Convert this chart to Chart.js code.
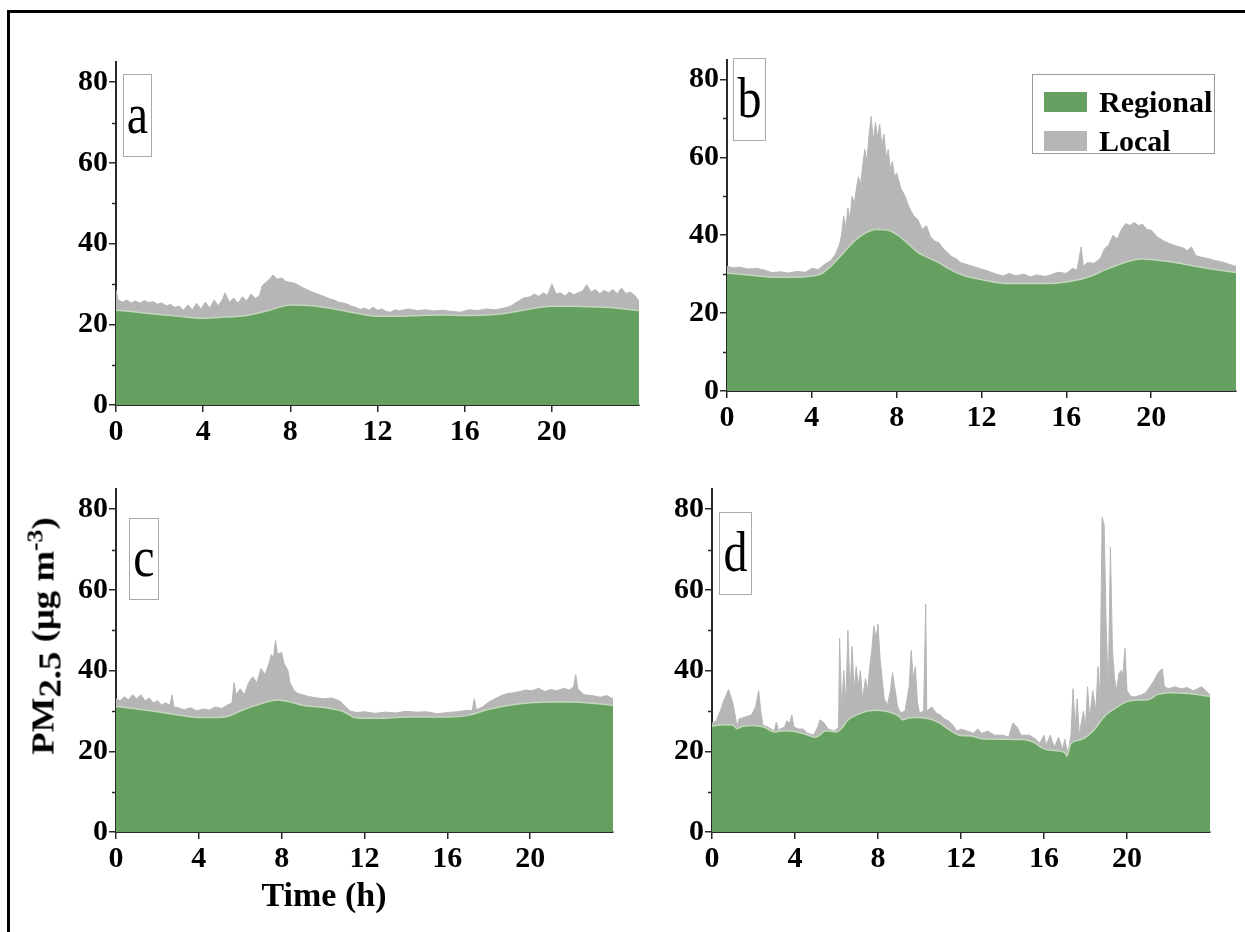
<!DOCTYPE html>
<html lang="en">
<head>
<meta charset="UTF-8">
<title>PM2.5 regional and local contributions</title>
<script src="https://cdn.jsdelivr.net/npm/chart.js"></script>
<style>
  body { margin: 0; background: #fff; }
  #page { position: relative; width: 1245px; height: 932px; overflow: hidden; background: #fff;
          font-family: 'Liberation Serif', 'Times New Roman', serif; }
  #frame { position: absolute; left: 7px; top: 10px; right: -10px; bottom: -10px;
           border-left: 3px solid #000; border-top: 3px solid #000; }
  canvas { position: absolute; }
  .tag { position: absolute; border: 1.5px solid #aaa; box-sizing: border-box; font-size: 48px;
         line-height: 1; display: flex; align-items: center; justify-content: center; padding-bottom: 4px; }
  .tag span { display: inline-block; transform: scaleY(1.2); }
  #legend { position: absolute; left: 1032px; top: 74px; width: 183px; height: 80px; box-sizing: border-box;
            border: 1.5px solid #999; font-weight: bold; font-size: 30px; }
  #legend .row { position: absolute; left: 11px; height: 22px; display: flex; align-items: center; }
  #legend .sw { width: 43px; height: 20px; margin-right: 12px; }
  #ytitle { position: absolute; left: 43px; top: 636px; transform: translate(-50%, -50%) rotate(-90deg) scaleX(1.15);
            white-space: nowrap; font-weight: bold; font-size: 32px; }
  #ytitle .sub { position: relative; top: 0.22em; }
  #ytitle .sup { font-size: 0.7em; position: relative; top: -0.5em; }
  #xtitle { position: absolute; left: 324px; top: 895px; transform: translate(-50%, -50%);
            white-space: nowrap; font-weight: bold; font-size: 34px; }
</style>
</head>
<body>
<div id="page">
  <div id="frame"></div>
  <canvas id="chartA" width="620" height="440" style="left:40px; top:40px;"></canvas>
  <canvas id="chartB" width="595" height="440" style="left:650px; top:40px;"></canvas>
  <canvas id="chartC" width="620" height="440" style="left:40px; top:470px;"></canvas>
  <canvas id="chartD" width="595" height="440" style="left:650px; top:470px;"></canvas>

  <div class="tag" style="left:123px; top:74px; width:29px; height:83px;"><span>a</span></div>
  <div class="tag" style="left:733px; top:58px; width:33px; height:83px;"><span>b</span></div>
  <div class="tag" style="left:129px; top:518px; width:30px; height:82px;"><span>c</span></div>
  <div class="tag" style="left:719px; top:512px; width:33px; height:83px;"><span>d</span></div>

  <div id="legend">
    <div class="row" style="top:16px;"><span class="sw" style="background:rgb(102,160,96);"></span>Regional</div>
    <div class="row" style="top:55px;"><span class="sw" style="background:rgb(182,182,182);"></span>Local</div>
  </div>

  <div id="ytitle">PM<span class="sub">2.5</span> (μg m<span class="sup">-3</span>)</div>
  <div id="xtitle">Time (h)</div>
</div>

<script>
// tick labels
const xTickHours = [0, 4, 8, 12, 16, 20];
const yTickValues = [0, 20, 40, 60, 80];
const yMinorTicks = [10, 30, 50, 70];

// panel a
const aRegionalHours = [0, 1, 2, 3, 4, 5, 6, 7, 8, 9, 10, 11, 12, 13, 14, 15, 16, 17, 18, 19, 20, 21, 22, 23, 24];
const aRegional = [23.5, 23.0, 22.4, 21.9, 21.5, 21.8, 22.2, 23.4, 24.8, 24.6, 23.8, 22.8, 22.0, 22.0, 22.2, 22.3, 22.2, 22.3, 22.8, 23.8, 24.5, 24.5, 24.3, 24.0, 23.4];
const aTotalHours = [0, 0.1, 0.3, 0.5, 0.7, 0.9, 1.1, 1.3, 1.5, 1.7, 1.9, 2.1, 2.3, 2.5, 2.7, 2.9, 3.1, 3.3, 3.5, 3.7, 3.9,
  4.1, 4.3, 4.5, 4.7, 4.9, 5.0, 5.2, 5.4, 5.6, 5.8, 6.0, 6.2, 6.4, 6.6, 6.7, 6.9, 7.1, 7.2, 7.4, 7.6, 7.8,
  8.0, 8.2, 8.4, 8.6, 8.8, 9.0, 9.2, 9.4, 9.6, 9.8, 10.0, 10.2, 10.4, 10.6, 10.8, 11.0, 11.2, 11.4, 11.6, 11.8,
  12.0, 12.2, 12.4, 12.6, 12.8, 13.0, 13.4, 13.8, 14.2, 14.6, 15.0, 15.4, 15.8, 16.2, 16.6, 17.0, 17.4, 17.8,
  18.1, 18.4, 18.7, 19.0, 19.2, 19.4, 19.6, 19.8, 20.0, 20.2, 20.4, 20.6, 20.8, 21.0, 21.2, 21.4, 21.6, 21.8,
  22.0, 22.2, 22.4, 22.6, 22.8, 23.0, 23.2, 23.4, 23.6, 23.8, 24.0];
const aTotal = [28.5, 26.0, 25.5, 26.0, 25.3, 25.8, 25.2, 25.9, 25.4, 25.6, 25.0, 25.3, 24.6, 24.9, 24.2, 24.5, 23.5, 24.8, 23.6, 25.2, 23.8,
  25.5, 24.0, 26.0, 24.6, 26.3, 27.8, 25.5, 26.5, 25.2, 26.8, 25.8, 27.5, 26.4, 27.2, 29.5, 30.5, 31.5, 32.2, 31.2, 31.5, 30.6,
  30.4, 30.2, 29.6, 29.0, 28.5, 28.0, 27.6, 27.2, 26.8, 26.3, 26.0, 25.5, 25.3, 25.0, 24.5, 24.2, 23.7, 24.0, 23.5, 24.2,
  23.5, 23.8, 23.2, 23.0, 23.6, 23.3, 23.8, 23.4, 23.6, 23.3, 23.5, 23.2, 23.0, 23.6, 23.4, 23.8, 23.6, 24.0,
  24.5, 25.5, 26.5, 26.8, 27.5, 26.9, 27.8, 27.2, 30.0, 27.5, 27.8, 27.0, 28.0, 27.3, 27.8, 28.2, 29.8, 28.0,
  28.6, 27.6, 28.4, 27.8, 28.6, 27.6, 29.0, 27.6, 28.0, 27.2, 25.8];

// panel b
const bRegionalHours = [0, 1, 2, 3, 4, 4.5, 5, 5.5, 6, 6.5, 7, 7.5, 8, 8.5, 9, 9.5, 10, 10.5, 11, 12, 13, 14, 15, 16, 17, 18, 19, 19.5, 20, 21, 22, 23, 24];
const bRegional = [30.3, 29.8, 29.3, 29.2, 29.5, 30.3, 32.6, 35.5, 38.5, 40.5, 41.5, 41.4, 40.2, 38.0, 35.6, 34.2, 32.9, 31.3, 30.0, 28.6, 27.7, 27.6, 27.6, 28.0, 29.2, 31.5, 33.4, 33.9, 33.8, 33.1, 32.1, 31.2, 30.4];
const bTotalHours = [0, 0.3, 0.6, 1.0, 1.4, 1.8, 2.1, 2.5, 2.9, 3.3, 3.7, 4.0, 4.3, 4.6, 4.9, 5.1, 5.3, 5.4, 5.5, 5.6, 5.7,
  5.8, 5.9, 6.0, 6.1, 6.2, 6.3, 6.4, 6.5, 6.6, 6.7, 6.8, 6.9, 7.0, 7.1, 7.2, 7.3, 7.4, 7.5, 7.6, 7.7, 7.8, 7.9,
  8.0, 8.2, 8.4, 8.6, 8.8, 9.0, 9.2, 9.4, 9.6, 9.8, 10.0, 10.2, 10.4, 10.6, 10.8, 11.0, 11.3, 11.6, 12.0, 12.3,
  12.6, 13.0, 13.3, 13.6, 14.0, 14.3, 14.6, 15.0, 15.3, 15.6, 16.0, 16.3, 16.5, 16.7, 16.8, 17.0, 17.3, 17.6,
  17.8, 18.0, 18.2, 18.4, 18.6, 18.8, 19.0, 19.2, 19.4, 19.6, 19.8, 20.0, 20.3, 20.6, 20.9, 21.2, 21.5, 21.7,
  21.9, 22.1, 22.4, 22.7, 23.0, 23.3, 23.6, 24.0];
const bTotal = [32.0, 31.6, 31.8, 31.3, 31.5, 31.0, 30.4, 30.6, 30.3, 30.7, 30.5, 31.5, 31.2, 32.5, 33.5, 35.0, 37.5, 40.0, 45.0, 42.0, 47.0,
  44.0, 50.0, 48.0, 52.0, 55.0, 53.0, 58.0, 62.0, 59.0, 66.0, 70.5, 64.0, 69.0, 65.0, 68.5, 63.0, 66.0, 60.0, 62.0, 57.0, 59.0, 55.0,
  56.0, 52.0, 50.0, 47.0, 45.0, 44.0, 41.5, 42.5, 39.5, 38.5, 38.0, 36.5, 35.5, 34.5, 34.0, 33.0, 32.5, 32.0, 31.3, 30.8,
  30.2, 29.5, 30.2, 29.6, 30.0, 29.3, 29.8, 29.4, 29.9, 30.5, 30.2, 31.5, 31.0, 37.0, 32.0, 33.0, 32.8, 34.0,
  36.5, 37.5, 40.0, 39.0, 41.5, 43.0, 42.5, 43.3, 42.5, 42.8, 41.5, 41.3, 39.5, 38.5, 37.8, 37.2, 36.8, 36.0,
  37.0, 34.8, 34.3, 34.0, 33.5, 33.2, 32.7, 32.0];

// panel c
const cRegionalHours = [0, 1, 2, 3, 4, 5, 5.5, 6, 7, 7.8, 8.5, 9, 10, 11, 11.5, 12, 13, 14, 15, 16, 17, 18, 19, 20, 21, 22, 23, 24];
const cRegional = [31.1, 30.5, 29.8, 29.0, 28.4, 28.4, 28.8, 30.0, 31.8, 32.7, 32.1, 31.4, 30.9, 29.8, 28.4, 28.2, 28.2, 28.5, 28.5, 28.5, 28.9, 30.4, 31.4, 32.0, 32.2, 32.2, 31.9, 31.4];
const cTotalHours = [0, 0.2, 0.4, 0.6, 0.8, 1.0, 1.2, 1.4, 1.6, 1.8, 2.0, 2.2, 2.4, 2.6, 2.7, 2.8, 3.0, 3.3, 3.6, 3.9,
  4.2, 4.5, 4.8, 5.1, 5.4, 5.6, 5.7, 5.8, 6.0, 6.2, 6.4, 6.6, 6.8, 7.0, 7.2, 7.4, 7.5, 7.6, 7.7, 7.8,
  8.0, 8.1, 8.3, 8.4, 8.6, 8.8, 9.0, 9.3, 9.6, 10.0, 10.4, 10.8, 11.0, 11.3, 11.6, 12.0, 12.5, 13.0, 13.5, 14.0,
  14.5, 15.0, 15.5, 16.0, 16.5, 17.0, 17.2, 17.3, 17.4, 17.7, 18.0, 18.3, 18.6, 18.9, 19.2, 19.5, 19.8, 20.1,
  20.4, 20.7, 21.0, 21.3, 21.6, 21.9, 22.1, 22.2, 22.3, 22.6, 23.0, 23.4, 23.7, 24.0];
const cTotal = [33.0, 32.5, 33.5, 32.8, 34.0, 33.0, 34.0, 32.5, 33.2, 32.0, 32.5, 31.5, 32.0, 31.4, 34.0, 31.0, 30.8, 30.3, 30.8, 30.0,
  30.5, 30.2, 31.0, 30.6, 31.5, 32.0, 37.0, 34.0, 35.5, 34.0, 37.0, 38.5, 37.0, 40.5, 39.0, 42.0, 44.0, 43.0, 47.5, 44.0,
  44.5, 42.0, 40.0, 37.0, 35.0, 34.3, 34.0, 33.6, 33.3, 33.0, 33.2, 32.5, 31.5, 30.0, 29.6, 29.8, 29.4, 29.7, 29.5, 29.9,
  29.7, 29.8, 29.3, 29.6, 29.8, 30.2, 30.0, 33.0, 30.3, 31.0, 32.2, 33.0, 33.8, 34.3, 34.5, 34.8, 35.2, 35.0,
  35.6, 34.8, 35.3, 35.0, 35.6, 35.2, 36.0, 39.0, 35.5, 34.0, 33.8, 33.4, 33.8, 33.0];

// panel d
const dRegionalHours = [0, 0.5, 1, 1.2, 1.5, 2, 2.5, 3, 3.5, 4, 4.5, 5, 5.5, 6, 6.3, 6.5, 7, 7.5, 8, 8.5, 9, 9.2, 9.5, 10, 10.5, 11, 11.5, 12,
  12.5, 13, 14, 15, 15.5, 16, 16.5, 17, 17.1, 17.3, 17.8, 18.3, 19, 19.5, 20, 20.5, 21, 21.5, 22, 23, 24];
const dRegional = [26.2, 26.6, 26.5, 25.6, 26.2, 26.4, 26.0, 24.8, 25.1, 24.9, 24.2, 23.5, 25.1, 24.8, 26.0, 27.5, 29.1, 30.0, 30.2, 29.8, 28.7, 27.8, 28.3, 28.4, 28.0, 26.9, 25.1, 23.9,
  23.8, 23.1, 23.0, 22.9, 22.2, 20.6, 20.2, 19.7, 18.8, 22.0, 22.9, 24.7, 29.1, 30.9, 32.3, 32.7, 32.8, 34.1, 34.5, 34.3, 33.6];
const dTotalHours = [0, 0.2, 0.4, 0.6, 0.8, 1.0, 1.15, 1.2, 1.3, 1.6, 1.9, 2.1, 2.25, 2.35, 2.45, 2.7, 3.0, 3.1, 3.2, 3.5,
  3.6, 3.75, 3.85, 3.95, 4.2, 4.4, 4.6, 4.9, 5.1, 5.2, 5.4, 5.6, 5.9, 6.1, 6.15, 6.25, 6.35, 6.45, 6.55, 6.65,
  6.75, 6.85, 6.95, 7.05, 7.15, 7.25, 7.4, 7.5, 7.6, 7.7, 7.8, 7.9, 8.0, 8.1, 8.2, 8.3, 8.45, 8.6, 8.7, 8.8,
  8.95, 9.1, 9.3, 9.5, 9.6, 9.7, 9.8, 9.9, 10.0, 10.2, 10.3, 10.35, 10.6, 10.8, 11.0, 11.2, 11.4, 11.6, 11.8, 12.0,
  12.3, 12.6, 12.8, 13.0, 13.3, 13.6, 14.0, 14.3, 14.5, 14.7, 14.9, 15.3, 15.6, 15.8, 16.0, 16.1, 16.3, 16.5, 16.7, 16.9,
  17.0, 17.15, 17.3, 17.4, 17.5, 17.6, 17.7, 17.9, 18.0, 18.1, 18.2, 18.35, 18.5, 18.6, 18.7, 18.8, 18.9, 19.0, 19.1, 19.2,
  19.3, 19.4, 19.5, 19.6, 19.7, 19.8, 19.9, 20.0, 20.2, 20.4, 20.7, 20.9, 21.1, 21.3, 21.5, 21.7, 21.8, 22.0, 22.3, 22.6,
  22.9, 23.2, 23.4, 23.6, 23.8, 24.0];
const dTotal = [27.0, 27.5, 30.0, 33.0, 35.3, 32.0, 28.0, 26.0, 28.0, 28.5, 29.0, 31.0, 35.0, 30.0, 26.5, 26.0, 25.0, 27.2, 25.3, 26.0,
  27.5, 27.0, 29.0, 26.0, 25.5, 25.5, 24.5, 24.0, 26.0, 27.8, 27.0, 25.5, 25.0, 26.0, 48.0, 30.0, 40.0, 32.0, 50.0, 34.0,
  46.0, 35.0, 41.0, 36.0, 40.0, 33.0, 38.0, 35.0, 41.0, 45.0, 51.0, 48.0, 51.5, 43.0, 38.0, 33.0, 31.5, 35.0, 39.5, 36.0,
  31.0, 29.5, 30.0, 36.0, 45.0, 38.0, 41.0, 32.0, 29.5, 30.0, 56.5, 30.0, 31.0, 29.5, 29.0, 28.0, 27.5, 26.5, 25.0, 25.5,
  25.0, 24.5, 25.5, 24.5, 25.0, 24.0, 24.0, 23.5, 27.0, 26.0, 24.0, 24.0, 23.0, 22.0, 24.0, 21.5, 24.0, 21.0, 23.5, 20.5,
  23.0, 19.5, 24.0, 35.5, 26.0, 33.0, 24.0, 30.0, 26.0, 36.0, 28.0, 35.0, 30.0, 41.0, 33.0, 78.0, 76.0, 50.0, 35.0, 70.5,
  45.0, 38.0, 35.0, 39.0, 40.0, 39.0, 45.5, 35.0, 33.5, 33.5, 34.0, 34.5, 36.0, 37.5, 39.5, 40.5, 36.0, 35.5, 36.0, 35.5,
  35.8, 35.0, 35.5, 36.0, 35.0, 34.0];

const GREEN = 'rgb(102,160,96)';
const GREEN_EDGE = 'rgb(196,214,190)';
const GREY = 'rgb(182,182,182)';
const AXIS = '#2a2a2a';
const tickFont = { family: "'Liberation Serif', 'Times New Roman', serif", size: 30, weight: 'bold' };

function points(hours, values) {
  return hours.map((h, i) => ({ x: h, y: values[i] }));
}

// small ticks between the labelled ones on the y axis
const minorTicks = {
  id: 'minorTicks',
  afterDraw(chart) {
    const y = chart.scales.y;
    const ctx = chart.ctx;
    ctx.save();
    ctx.strokeStyle = AXIS;
    ctx.lineWidth = 1.5;
    yMinorTicks.forEach(v => {
      const py = Math.round(y.getPixelForValue(v)) + 0.5;
      ctx.beginPath();
      ctx.moveTo(y.right - 4, py);
      ctx.lineTo(y.right, py);
      ctx.stroke();
    });
    ctx.restore();
  }
};

function makePanel(id, rh, rv, th, tv, lay) {
  return new Chart(document.getElementById(id), {
    type: 'line',
    data: {
      datasets: [
        {
          label: 'Regional', data: points(rh, rv), fill: 'origin',
          backgroundColor: GREEN, borderColor: GREEN_EDGE, borderWidth: 1.5,
          pointRadius: 0, cubicInterpolationMode: 'monotone'
        },
        {
          label: 'Local', data: points(th, tv), fill: 'origin',
          backgroundColor: GREY, borderColor: GREY, borderWidth: 1,
          pointRadius: 0, tension: 0
        }
      ]
    },
    options: {
      responsive: false,
      animation: false,
      layout: { padding: { top: lay.top, right: lay.right, left: 0, bottom: 0 } },
      plugins: { legend: { display: false }, tooltip: { enabled: false } },
      scales: {
        x: {
          type: 'linear', min: 0, max: 24,
          afterBuildTicks: s => { s.ticks = xTickHours.map(v => ({ value: v })); },
          afterFit: s => { s.height = lay.xH; },
          ticks: { stepSize: 4, font: tickFont, color: '#000', padding: 2, maxRotation: 0, autoSkip: false },
          grid: { drawOnChartArea: false, tickLength: 7, color: AXIS, lineWidth: 1.5 },
          border: { color: AXIS, width: 2 }
        },
        y: {
          min: 0, max: 85,
          afterBuildTicks: s => { s.ticks = yTickValues.map(v => ({ value: v })); },
          afterFit: s => { s.width = lay.yW; },
          ticks: { stepSize: 20, font: tickFont, color: '#000', padding: 1 },
          grid: { drawOnChartArea: false, tickLength: 7, color: AXIS, lineWidth: 1.5 },
          border: { color: AXIS, width: 2 }
        }
      }
    },
    plugins: [minorTicks]
  });
}

makePanel('chartA', aRegionalHours, aRegional, aTotalHours, aTotal, { yW: 76, xH: 75, top: 22, right: 21 });
makePanel('chartB', bRegionalHours, bRegional, bTotalHours, bTotal, { yW: 77, xH: 89, top: 20, right: 9 });
makePanel('chartC', cRegionalHours, cRegional, cTotalHours, cTotal, { yW: 76, xH: 78, top: 19, right: 47 });
makePanel('chartD', dRegionalHours, dRegional, dTotalHours, dTotal, { yW: 62, xH: 78, top: 19, right: 35 });
</script>
</body>
</html>
